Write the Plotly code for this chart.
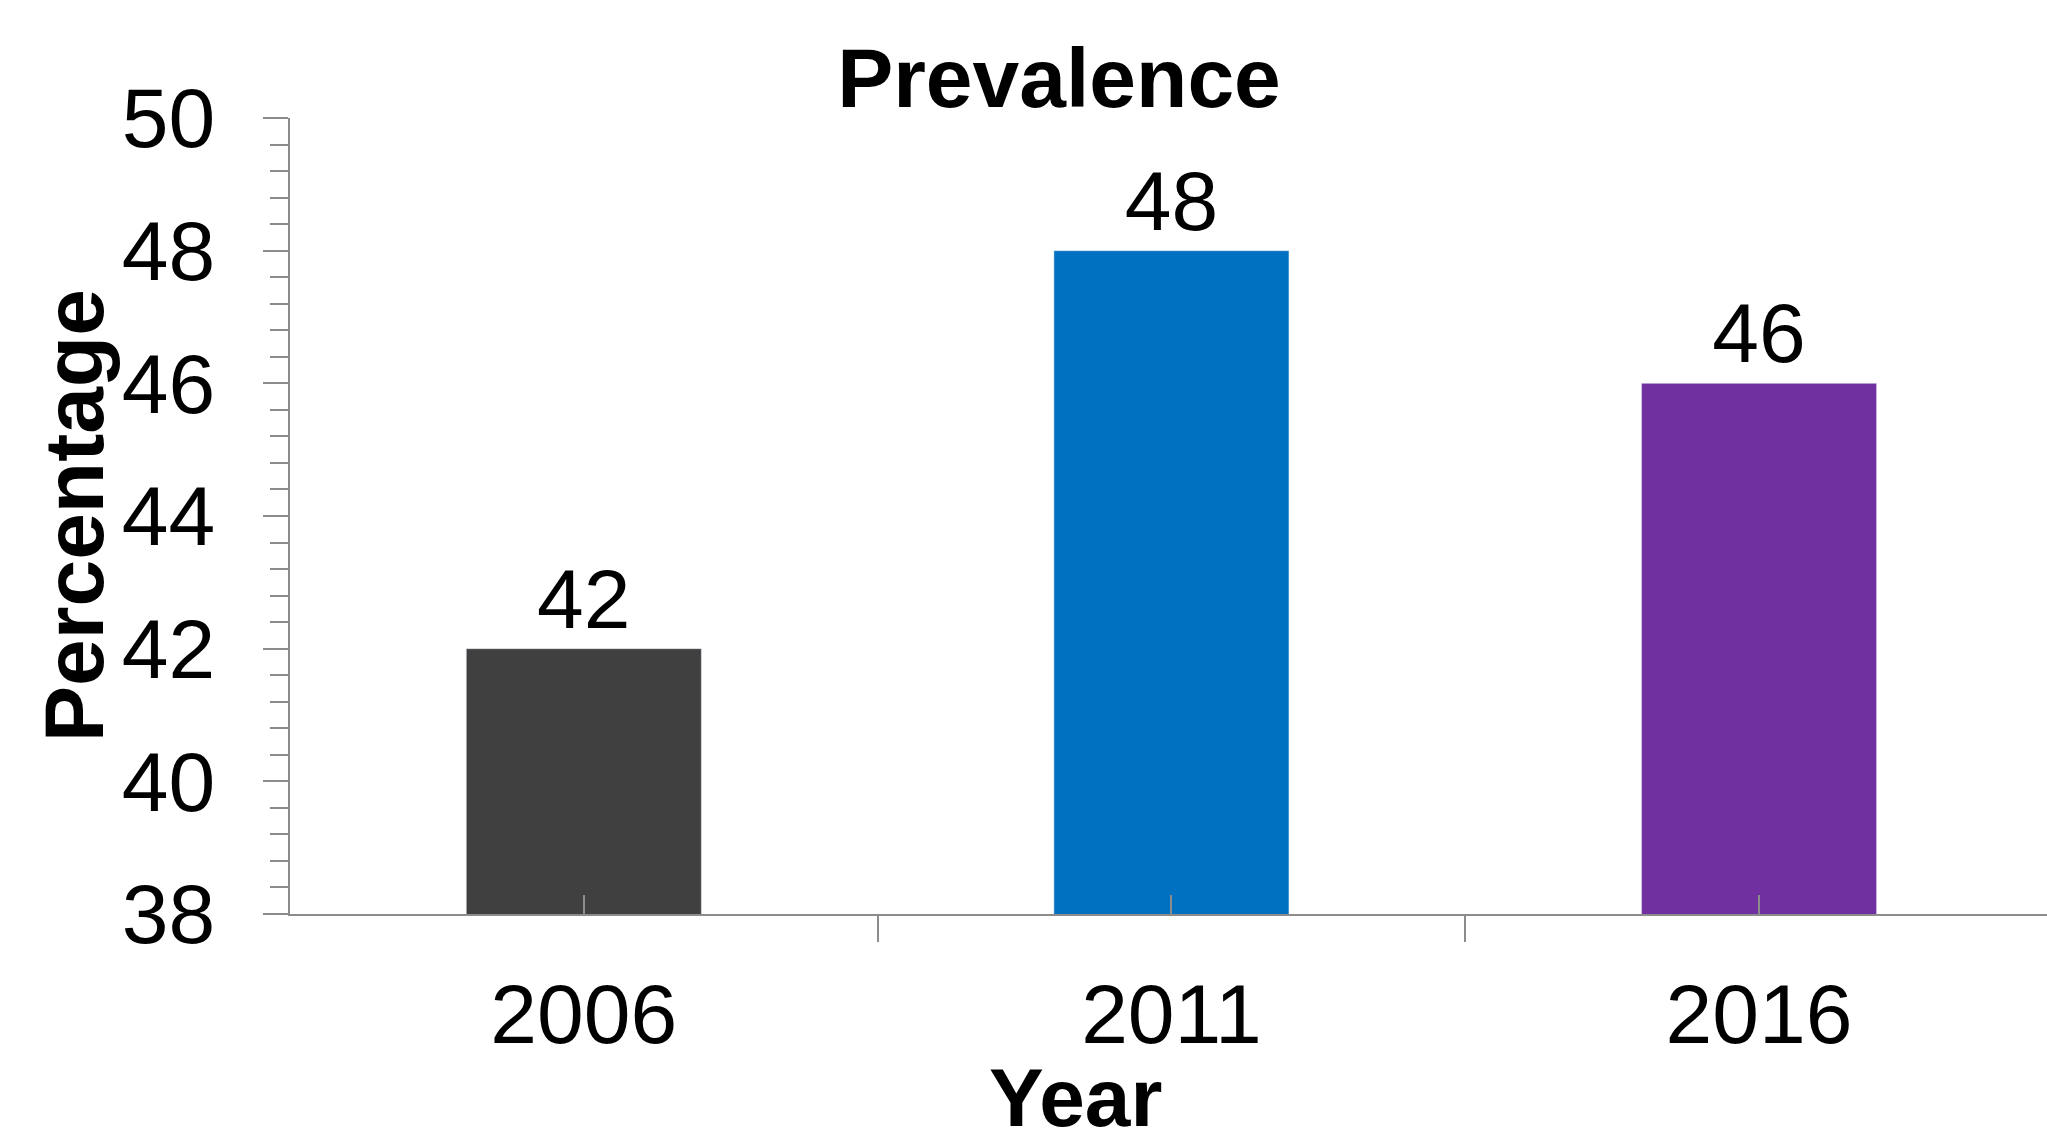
import plotly.graph_objects as go

years = ["2006", "2011", "2016"]
values = [42, 48, 46]
colors = ["#404040", "#0070C0", "#7030A0"]
positions = [0, 1, 2]
boundaries = [-0.5, 0.5, 1.5, 2.5]

FONT = "Arial, 'Liberation Sans', sans-serif"
AX = "#8c8c8c"

fig = go.Figure()
fig.add_trace(go.Bar(
    x=positions, y=values, marker_color=colors, width=0.4,
    text=[str(v) for v in values], textposition="outside",
    textfont=dict(family=FONT, size=84, color="black"),
    cliponaxis=False, showlegend=False,
))

fig.update_layout(
    width=2047, height=1133,
    margin=dict(l=290, r=0, t=118, b=219),
    plot_bgcolor="white", paper_bgcolor="white",
    font=dict(family=FONT, color="black"),
    title=dict(text="<b>Prevalence</b>", x=1059/2047, xref="container", xanchor="center",
               y=1 - 78/1133, yref="container", yanchor="middle",
               font=dict(family=FONT, size=84, color="black")),
    bargap=0.6,
)

fig.update_xaxes(
    range=[-0.5, 2.49], tickmode="array", tickvals=positions, ticktext=years,
    ticks="inside", ticklen=19, tickwidth=1.5, tickcolor=AX,
    showline=True, linecolor=AX, linewidth=2, showgrid=False, zeroline=False,
    tickfont=dict(family=FONT, size=84, color="black"),
    ticklabelstandoff=26,
    minor=dict(tickmode="array", tickvals=boundaries, ticks="outside", ticklen=26,
               tickwidth=1.5, tickcolor=AX, showgrid=False),
)

fig.update_yaxes(
    range=[38, 50], tickmode="linear", tick0=38, dtick=2,
    ticks="outside", ticklen=25, tickwidth=2, tickcolor=AX,
    showline=True, linecolor=AX, linewidth=2, showgrid=False, zeroline=False,
    tickfont=dict(family=FONT, size=84, color="black"),
    ticklabelstandoff=31,
    minor=dict(tick0=38, dtick=0.4, ticks="outside", ticklen=18, tickwidth=1.5,
               tickcolor=AX, showgrid=False),
)

fig.add_annotation(text="<b>Percentage</b>", xref="paper", yref="paper",
                   x=(74 - 290) / 1757, y=0.5, xanchor="center", yanchor="middle",
                   textangle=-90, showarrow=False,
                   font=dict(family=FONT, size=84, color="black"))
fig.add_annotation(text="<b>Year</b>", xref="paper", yref="paper",
                   x=(1075 - 290) / 1757, y=(914 - 1097) / 796,
                   xanchor="center", yanchor="middle", showarrow=False,
                   font=dict(family=FONT, size=82, color="black"))

fig.write_html("out.html")
